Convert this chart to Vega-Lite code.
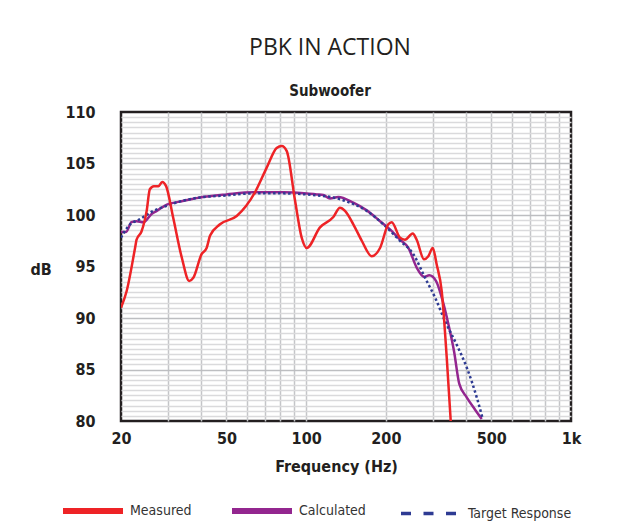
{
  "$schema": "https://vega.github.io/schema/vega-lite/v6.json",
  "width": 450,
  "height": 309,
  "padding": {"left": 30, "top": 37, "right": 10, "bottom": 5},
  "background": "white",
  "title": {
    "text": "PBK IN ACTION",
    "subtitle": "Subwoofer",
    "anchor": "middle",
    "dx": -16,
    "font": "Open Sans",
    "fontSize": 23,
    "fontWeight": "normal",
    "color": "#231f20",
    "subtitleFont": "Liberation Sans Narrow, DejaVu Sans Condensed, Liberation Sans",
    "subtitleFontSize": 15,
    "subtitleFontWeight": "bold",
    "subtitleColor": "#231f20",
    "subtitlePadding": 24,
    "offset": 5
  },
  "data": {
    "values": [
      {"f": 20, "db": 91.0, "s": "Measured"},
      {"f": 21.0, "db": 92.6, "s": "Measured"},
      {"f": 22.6, "db": 96.8, "s": "Measured"},
      {"f": 22.9, "db": 97.6, "s": "Measured"},
      {"f": 23.9, "db": 98.4, "s": "Measured"},
      {"f": 25.0, "db": 100.4, "s": "Measured"},
      {"f": 25.7, "db": 102.5, "s": "Measured"},
      {"f": 26.6, "db": 102.8, "s": "Measured"},
      {"f": 27.7, "db": 102.8, "s": "Measured"},
      {"f": 28.6, "db": 103.2, "s": "Measured"},
      {"f": 29.6, "db": 102.8, "s": "Measured"},
      {"f": 31.5, "db": 99.7, "s": "Measured"},
      {"f": 33.9, "db": 95.9, "s": "Measured"},
      {"f": 36.2, "db": 93.6, "s": "Measured"},
      {"f": 37.5, "db": 93.9, "s": "Measured"},
      {"f": 40.3, "db": 96.2, "s": "Measured"},
      {"f": 42.1, "db": 96.8, "s": "Measured"},
      {"f": 43.4, "db": 98.0, "s": "Measured"},
      {"f": 47.3, "db": 99.1, "s": "Measured"},
      {"f": 54.7, "db": 99.9, "s": "Measured"},
      {"f": 64.1, "db": 102.2, "s": "Measured"},
      {"f": 71.0, "db": 104.6, "s": "Measured"},
      {"f": 77.4, "db": 106.5, "s": "Measured"},
      {"f": 80.9, "db": 106.7, "s": "Measured"},
      {"f": 84.5, "db": 106.2, "s": "Measured"},
      {"f": 90.8, "db": 101.4, "s": "Measured"},
      {"f": 96.2, "db": 97.8, "s": "Measured"},
      {"f": 100.5, "db": 96.8, "s": "Measured"},
      {"f": 112.8, "db": 98.8, "s": "Measured"},
      {"f": 126.7, "db": 99.8, "s": "Measured"},
      {"f": 134.2, "db": 100.7, "s": "Measured"},
      {"f": 140.2, "db": 100.4, "s": "Measured"},
      {"f": 150.7, "db": 99.1, "s": "Measured"},
      {"f": 162.2, "db": 97.5, "s": "Measured"},
      {"f": 176.9, "db": 96.0, "s": "Measured"},
      {"f": 190.1, "db": 96.8, "s": "Measured"},
      {"f": 204.3, "db": 99.1, "s": "Measured"},
      {"f": 210.4, "db": 99.3, "s": "Measured"},
      {"f": 226.2, "db": 97.8, "s": "Measured"},
      {"f": 236.1, "db": 97.6, "s": "Measured"},
      {"f": 252.6, "db": 98.2, "s": "Measured"},
      {"f": 261.4, "db": 97.6, "s": "Measured"},
      {"f": 278.7, "db": 95.7, "s": "Measured"},
      {"f": 289.3, "db": 96.0, "s": "Measured"},
      {"f": 300.6, "db": 96.8, "s": "Measured"},
      {"f": 311.1, "db": 95.2, "s": "Measured"},
      {"f": 325.0, "db": 92.6, "s": "Measured"},
      {"f": 339.6, "db": 86.1, "s": "Measured"},
      {"f": 351.5, "db": 80.0, "s": "Measured"},
      {"f": 20, "db": 98.35, "s": "Calculated"},
      {"f": 20.9, "db": 98.35, "s": "Calculated"},
      {"f": 21.9, "db": 99.3, "s": "Calculated"},
      {"f": 22.9, "db": 99.4, "s": "Calculated"},
      {"f": 24.3, "db": 99.3, "s": "Calculated"},
      {"f": 26.1, "db": 100.1, "s": "Calculated"},
      {"f": 27.3, "db": 100.4, "s": "Calculated"},
      {"f": 29.8, "db": 101.0, "s": "Calculated"},
      {"f": 33.4, "db": 101.3, "s": "Calculated"},
      {"f": 39.7, "db": 101.7, "s": "Calculated"},
      {"f": 50.1, "db": 102.0, "s": "Calculated"},
      {"f": 63.2, "db": 102.2, "s": "Calculated"},
      {"f": 82.0, "db": 102.2, "s": "Calculated"},
      {"f": 109.7, "db": 102.0, "s": "Calculated"},
      {"f": 116.0, "db": 101.95, "s": "Calculated"},
      {"f": 123.0, "db": 101.6, "s": "Calculated"},
      {"f": 132.3, "db": 101.75, "s": "Calculated"},
      {"f": 150.7, "db": 101.2, "s": "Calculated"},
      {"f": 169.4, "db": 100.45, "s": "Calculated"},
      {"f": 190.1, "db": 99.4, "s": "Calculated"},
      {"f": 207.3, "db": 98.6, "s": "Calculated"},
      {"f": 226.2, "db": 97.6, "s": "Calculated"},
      {"f": 243.2, "db": 96.8, "s": "Calculated"},
      {"f": 261.4, "db": 94.9, "s": "Calculated"},
      {"f": 278.7, "db": 94.0, "s": "Calculated"},
      {"f": 291.7, "db": 94.15, "s": "Calculated"},
      {"f": 309.2, "db": 93.6, "s": "Calculated"},
      {"f": 325.0, "db": 92.0, "s": "Calculated"},
      {"f": 344.4, "db": 89.4, "s": "Calculated"},
      {"f": 361.6, "db": 86.8, "s": "Calculated"},
      {"f": 378.7, "db": 83.6, "s": "Calculated"},
      {"f": 403.9, "db": 82.3, "s": "Calculated"},
      {"f": 434.4, "db": 81.1, "s": "Calculated"},
      {"f": 460.2, "db": 80.2, "s": "Calculated"},
      {"f": 20, "db": 97.8, "s": "Target Response"},
      {"f": 21.3, "db": 98.9, "s": "Target Response"},
      {"f": 23.6, "db": 99.6, "s": "Target Response"},
      {"f": 26.5, "db": 100.4, "s": "Target Response"},
      {"f": 29.8, "db": 100.9, "s": "Target Response"},
      {"f": 34.4, "db": 101.4, "s": "Target Response"},
      {"f": 39.7, "db": 101.7, "s": "Target Response"},
      {"f": 50.1, "db": 101.9, "s": "Target Response"},
      {"f": 63.2, "db": 102.1, "s": "Target Response"},
      {"f": 82.0, "db": 102.1, "s": "Target Response"},
      {"f": 109.7, "db": 101.9, "s": "Target Response"},
      {"f": 126.7, "db": 101.7, "s": "Target Response"},
      {"f": 146.4, "db": 101.2, "s": "Target Response"},
      {"f": 169.4, "db": 100.4, "s": "Target Response"},
      {"f": 195.5, "db": 99.1, "s": "Target Response"},
      {"f": 226.2, "db": 97.5, "s": "Target Response"},
      {"f": 253.9, "db": 96.2, "s": "Target Response"},
      {"f": 281.2, "db": 93.9, "s": "Target Response"},
      {"f": 306.6, "db": 92.0, "s": "Target Response"},
      {"f": 334.5, "db": 89.7, "s": "Target Response"},
      {"f": 370.3, "db": 87.4, "s": "Target Response"},
      {"f": 403.9, "db": 85.2, "s": "Target Response"},
      {"f": 440.6, "db": 82.3, "s": "Target Response"},
      {"f": 464.3, "db": 80.2, "s": "Target Response"}
    ]
  },
  "encoding": {
    "x": {
      "field": "f",
      "type": "quantitative",
      "scale": {"type": "log", "domain": [20, 1000], "nice": false},
      "axis": {
        "values": [20, 30, 40, 50, 60, 70, 80, 90, 100, 200, 300, 400, 500, 600, 700, 800, 900, 1000],
        "labelExpr": "datum.value == 20 ? '20' : datum.value == 50 ? '50' : datum.value == 100 ? '100' : datum.value == 200 ? '200' : datum.value == 500 ? '500' : datum.value == 1000 ? '1k' : ''",
        "ticks": false,
        "domain": false,
        "grid": true,
        "gridColor": {"condition": {"test": "datum.value == 20 || datum.value == 1000", "value": "transparent"}, "value": "#c4c5c8"},
        "gridWidth": 1.5,
        "labelFont": "Liberation Sans Narrow, DejaVu Sans Condensed, Liberation Sans",
        "labelFontSize": 16,
        "labelFontWeight": "bold",
        "labelColor": "#231f20",
        "labelPadding": 9,
        "labelOverlap": false,
        "labelFlush": false,
        "title": "Frequency (Hz)",
        "titleFont": "Liberation Sans Narrow, DejaVu Sans Condensed, Liberation Sans",
        "titleFontSize": 16,
        "titleFontWeight": "bold",
        "titleColor": "#231f20",
        "titlePadding": 12,
        "titleX": 215
      }
    },
    "y": {
      "field": "db",
      "type": "quantitative",
      "scale": {"domain": [80, 110], "nice": false, "zero": false},
      "axis": {
        "values": [80, 80.5, 81, 81.5, 82, 82.5, 83, 83.5, 84, 84.5, 85, 85.5, 86, 86.5, 87, 87.5, 88, 88.5, 89, 89.5, 90, 90.5, 91, 91.5, 92, 92.5, 93, 93.5, 94, 94.5, 95, 95.5, 96, 96.5, 97, 97.5, 98, 98.5, 99, 99.5, 100, 100.5, 101, 101.5, 102, 102.5, 103, 103.5, 104, 104.5, 105, 105.5, 106, 106.5, 107, 107.5, 108, 108.5, 109, 109.5, 110],
        "labelExpr": "datum.value % 5 === 0 ? datum.value : ''",
        "ticks": false,
        "domain": false,
        "grid": true,
        "gridColor": {"condition": {"test": "datum.value % 5 === 0", "value": "#bdbec1"}, "value": "#dadadc"},
        "gridWidth": {"condition": {"test": "datum.value == 80 || datum.value == 110", "value": 0}, "value": 1.7},
        "labelFont": "Liberation Sans Narrow, DejaVu Sans Condensed, Liberation Sans",
        "labelFontSize": 16,
        "labelFontWeight": "bold",
        "labelColor": "#231f20",
        "labelPadding": 26,
        "labelOverlap": false,
        "labelFlush": false,
        "title": "dB",
        "titleFont": "Liberation Sans Narrow, DejaVu Sans Condensed, Liberation Sans",
        "titleFontSize": 16,
        "titleFontWeight": "bold",
        "titleColor": "#231f20",
        "titleAngle": 0,
        "titleAlign": "left",
        "titleBaseline": "middle",
        "titleX": -91,
        "titleY": 157
      }
    },
    "color": {
      "field": "s",
      "type": "nominal",
      "scale": {
        "domain": ["Measured", "Calculated", "Target Response"],
        "range": ["#ee2326", "#93268f", "#2e3b93"]
      },
      "legend": {
        "orient": "none",
        "legendX": -35,
        "legendY": 392,
        "direction": "horizontal",
        "title": null,
        "symbolType": "stroke",
        "symbolSize": 3600,
        "symbolStrokeWidth": 6,
        "labelFont": "Liberation Sans Narrow, DejaVu Sans Condensed, Liberation Sans",
        "labelFontSize": 14,
        "labelColor": "#333333",
        "labelOffset": 30,
        "gridAlign": "each",
        "columnPadding": 28,
        "encode": {
          "symbols": {
            "update": {
              "strokeDash": {"signal": "datum.value === 'Target Response' ? [10, 12.5] : [1, 0]"},
              "strokeWidth": {"signal": "datum.value === 'Target Response' ? 3.5 : 6"}
            }
          }
        }
      }
    }
  },
  "layer": [
    {
      "transform": [{"filter": "datum.s === 'Calculated'"}],
      "mark": {"type": "line", "interpolate": "monotone", "strokeWidth": 2.5, "clip": true}
    },
    {
      "transform": [{"filter": "datum.s === 'Target Response'"}],
      "mark": {"type": "line", "interpolate": "monotone", "strokeWidth": 2.5, "strokeDash": [2.5, 2.5], "clip": true}
    },
    {
      "transform": [{"filter": "datum.s === 'Measured'"}],
      "mark": {"type": "line", "interpolate": "monotone", "strokeWidth": 2.5, "clip": true}
    }
  ],
  "config": {
    "view": {"stroke": "#231f20", "strokeWidth": 2.5}
  }
}
